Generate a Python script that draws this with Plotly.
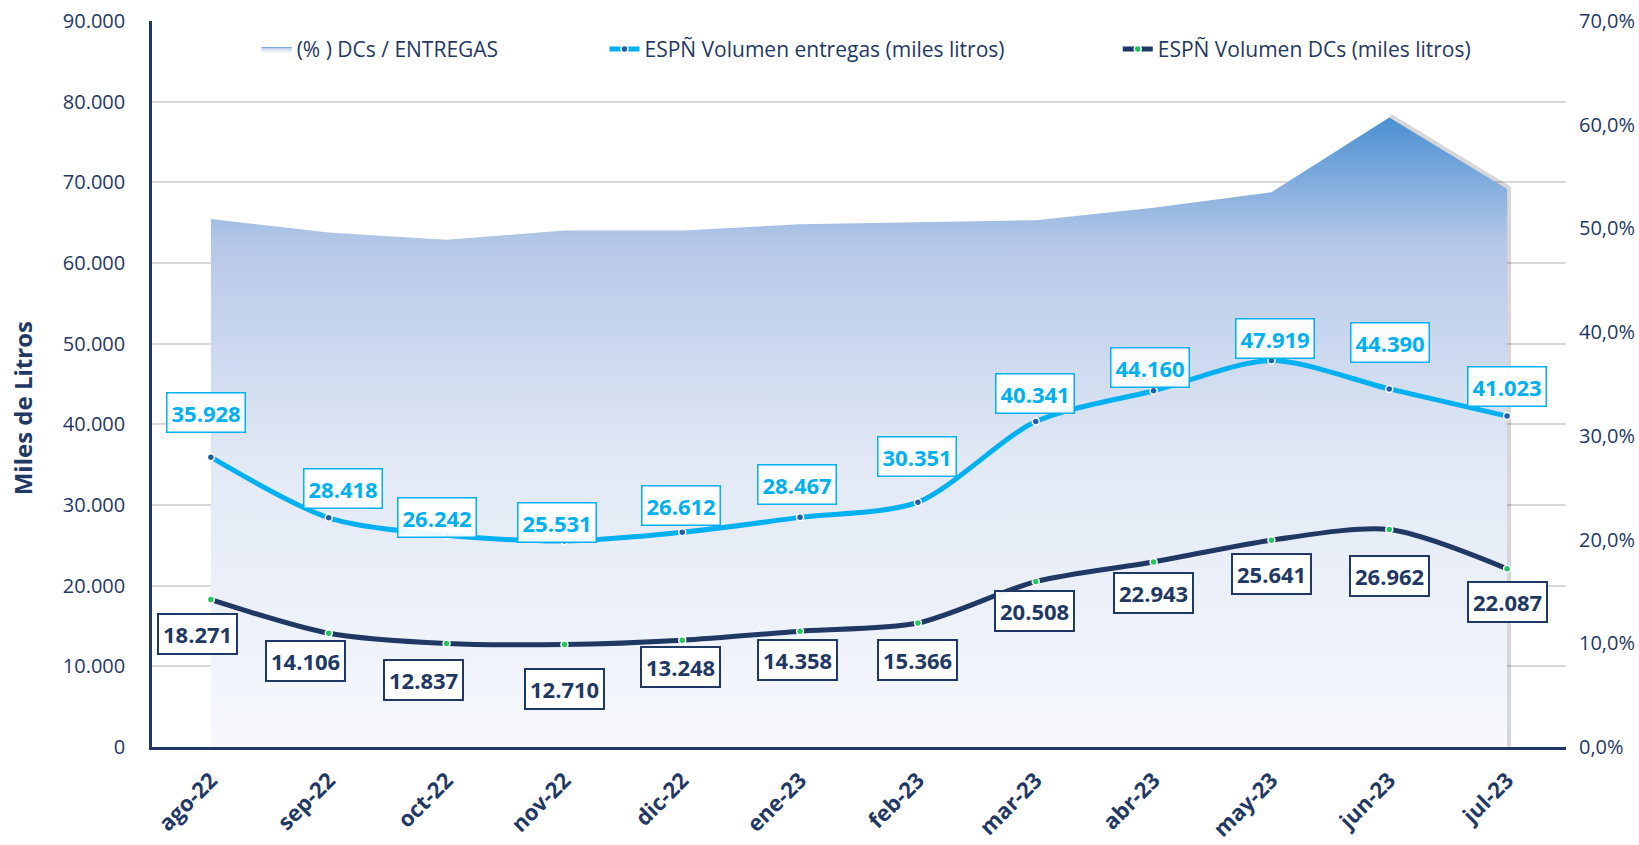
import plotly.graph_objects as go

months = ["ago-22", "sep-22", "oct-22", "nov-22", "dic-22", "ene-23",
          "feb-23", "mar-23", "abr-23", "may-23", "jun-23", "jul-23"]
entregas = [35928, 28418, 26242, 25531, 26612, 28467, 30351, 40341, 44160, 47919, 44390, 41023]
dcs = [18271, 14106, 12837, 12710, 13248, 14358, 15366, 20508, 22943, 25641, 26962, 22087]
pct = [0.509, 0.496, 0.489, 0.498, 0.498, 0.504, 0.506, 0.508, 0.520, 0.535, 0.607, 0.538]

left_ticks = [0, 10000, 20000, 30000, 40000, 50000, 60000, 70000, 80000, 90000]
right_ticks = [0, 0.1, 0.2, 0.3, 0.4, 0.5, 0.6, 0.7]

# label offsets in px (style / position only)
ent_shift = [(-5, 45), (14, 29), (-10, 18), (-7, 19), (-1, 27), (-3, 33),
             (-1, 46), (-1, 28), (-4, 23), (4, 22), (1, 46), (0, 30)]
dcs_shift = [(-13, -34), (-23, -28), (-23, -37), (0, -45), (-2, -27), (-3, -29),
             (0, -37), (-1, -29), (0, -31), (0, -34), (0, -46), (0, -33)]

NAVY = "#1F3864"
CYAN = "#00B0F0"
FONT = "Open Sans"

def fmt(v):
    return f"{v:,}".replace(",", ".")

fig = go.Figure()

# soft shadow along the right edge of the area (drawn beneath it)
fig.add_trace(go.Scatter(
    x=[months[-2], months[-1], months[-1]], y=[pct[-2], pct[-1], 0], yaxis="y",
    mode="lines", line=dict(color="rgba(0,0,0,0.16)", width=8),
    showlegend=False, hoverinfo="skip"))

# area on the base (percentage) axis so the lines overlay it
fig.add_trace(go.Scatter(
    x=months, y=pct, yaxis="y", name="(% ) DCs / ENTREGAS",
    mode="lines", line=dict(width=0, color="#C9D6EE"),
    fill="tozeroy",
    fillgradient=dict(type="vertical",
                      colorscale=[[0, "#F6F8FC"], [0.45, "#E2E9F5"],
                                  [0.8, "#B6C8E8"], [1, "#4A8FD2"]]),
    legend="legend", hoverinfo="skip"))

fig.add_trace(go.Scatter(
    x=months, y=entregas, yaxis="y2", name="ESPÑ Volumen entregas (miles litros)",
    mode="lines+markers", line=dict(color=CYAN, width=5, shape="spline", smoothing=0.8),
    marker=dict(size=7, color="#1F5FA8", line=dict(color="white", width=1.5)),
    legend="legend2"))

fig.add_trace(go.Scatter(
    x=months, y=dcs, yaxis="y2", name="ESPÑ Volumen DCs (miles litros)",
    mode="lines+markers", line=dict(color=NAVY, width=5, shape="spline", smoothing=0.8),
    marker=dict(size=7, color="#22C55E", line=dict(color="white", width=1.5)),
    legend="legend3"))

for i, m in enumerate(months):
    fig.add_annotation(x=m, y=entregas[i], xref="x", yref="y2",
                       text=f"<b>{fmt(entregas[i])}</b>", showarrow=False,
                       xshift=ent_shift[i][0], yshift=ent_shift[i][1],
                       font=dict(family=FONT, size=22, color=CYAN),
                       bgcolor="rgba(255,255,255,0.92)", bordercolor=CYAN,
                       borderwidth=1.5, borderpad=4)
    fig.add_annotation(x=m, y=dcs[i], xref="x", yref="y2",
                       text=f"<b>{fmt(dcs[i])}</b>", showarrow=False,
                       xshift=dcs_shift[i][0], yshift=dcs_shift[i][1],
                       font=dict(family=FONT, size=22, color=NAVY),
                       bgcolor="rgba(255,255,255,0.95)", bordercolor=NAVY,
                       borderwidth=2, borderpad=4)

fig.add_annotation(x=-0.091, y=0.467, xref="paper", yref="paper", xanchor="center",
                   yanchor="middle", text="<b>Miles de Litros</b>", textangle=-90,
                   showarrow=False, font=dict(family=FONT, size=24, color=NAVY))

legend_common = dict(orientation="h", yanchor="middle", y=0.961, xanchor="left",
                     bgcolor="rgba(0,0,0,0)",
                     font=dict(family=FONT, size=21, color=NAVY))

fig.update_layout(
    width=1639, height=845,
    margin=dict(l=152, r=73, t=21, b=98),
    paper_bgcolor="white", plot_bgcolor="white",
    separators=",.",
    font=dict(family=FONT, color=NAVY),
    showlegend=True,
    legend=dict(x=0.074, **legend_common),
    legend2=dict(x=0.320, **legend_common),
    legend3=dict(x=0.683, **legend_common),
    xaxis=dict(type="category", categoryorder="array", categoryarray=months,
               range=[-0.5, 11.5], tickangle=-45, automargin=False,
               tickfont=dict(family=FONT, size=22, color=NAVY, weight="bold"),
               showgrid=False, showline=True, linecolor=NAVY, linewidth=2.5,
               ticks="", zeroline=False, ticklabelstandoff=9),
    yaxis=dict(range=[0, 0.7], tickvals=right_ticks, tickformat=",.1%",
               side="right", showgrid=False, zeroline=False, automargin=False,
               tickfont=dict(family=FONT, size=20, color=NAVY),
               showline=False, ticks="", ticklabelstandoff=12),
    yaxis2=dict(range=[0, 90000], tickvals=left_ticks, tickformat=",.0f",
                overlaying="y", side="left", automargin=False,
                tickfont=dict(family=FONT, size=20, color=NAVY),
                showgrid=True, gridcolor="#D9D9D9", gridwidth=1.5,
                showline=True, linecolor=NAVY, linewidth=2.5, zeroline=False,
                ticks="", ticklabelstandoff=20),
)

fig.write_html("out.html", config={"displayModeBar": False},
               post_script="document.body.style.margin='0';")
